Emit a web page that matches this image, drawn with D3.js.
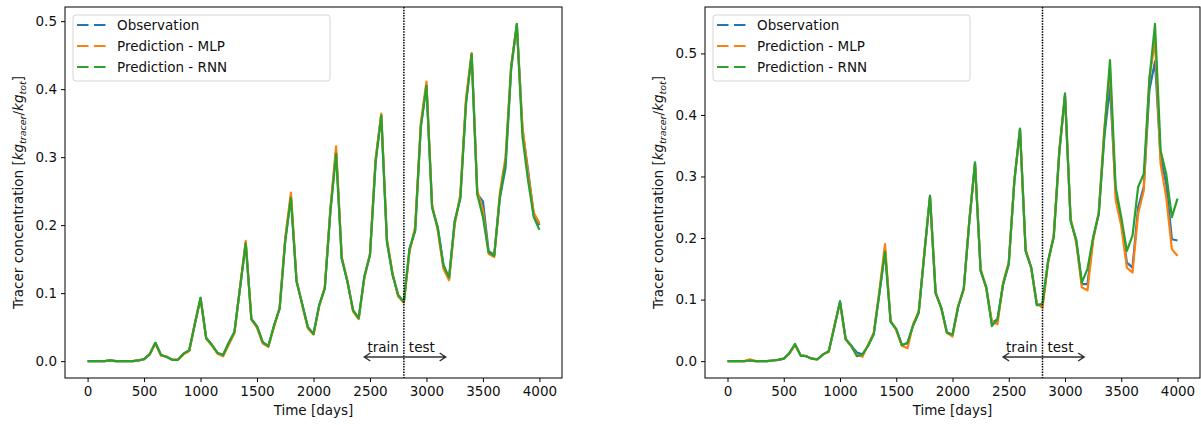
<!DOCTYPE html>
<html>
<head>
<meta charset="utf-8">
<script src="https://cdn.jsdelivr.net/npm/d3@7"></script>
<style>
  html, body { margin: 0; padding: 0; background: #fff; }
  svg { display: block; font-family: "DejaVu Sans", sans-serif; }
</style>
</head>
<body>
<svg id="chart" width="1201" height="425"></svg>
<script>
'use strict';

var DAYS = [0, 50, 100, 150, 200, 250, 300, 350, 400, 450, 500, 550, 600, 650, 700, 750, 800, 850, 900, 950,
  1000, 1050, 1100, 1150, 1200, 1250, 1300, 1350, 1400, 1450, 1500, 1550, 1600, 1650, 1700, 1750, 1800, 1850, 1900, 1950,
  2000, 2050, 2100, 2150, 2200, 2250, 2300, 2350, 2400, 2450, 2500, 2550, 2600, 2650, 2700, 2750, 2800, 2850, 2900, 2950,
  3000, 3050, 3100, 3150, 3200, 3250, 3300, 3350, 3400, 3450, 3500, 3550, 3600, 3650, 3700, 3750, 3800, 3850, 3900, 3950, 4000];

// left panel
var LEFT_OBS = [0, 0, 0, 0, 0.001, 0, 0, 0, 0, 0.001, 0.003, 0.010, 0.027, 0.009, 0.006, 0.002, 0.002, 0.011, 0.016, 0.055,
  0.093, 0.034, 0.024, 0.012, 0.009, 0.027, 0.043, 0.108, 0.174, 0.062, 0.051, 0.028, 0.022, 0.052, 0.077, 0.178, 0.242, 0.117, 0.084, 0.050,
  0.040, 0.082, 0.107, 0.222, 0.308, 0.151, 0.117, 0.075, 0.063, 0.124, 0.156, 0.294, 0.362, 0.176, 0.127, 0.097, 0.087, 0.165, 0.192, 0.345,
  0.406, 0.226, 0.197, 0.142, 0.121, 0.206, 0.240, 0.380, 0.452, 0.246, 0.235, 0.162, 0.156, 0.240, 0.284, 0.430, 0.495, 0.340, 0.280, 0.215, 0.200];
var LEFT_MLP = [0, 0, 0, 0, 0.001, 0, 0, 0, 0, 0.001, 0.003, 0.010, 0.026, 0.008, 0.007, 0.002, 0.002, 0.010, 0.015, 0.056,
  0.092, 0.033, 0.023, 0.011, 0.007, 0.024, 0.041, 0.110, 0.177, 0.061, 0.049, 0.026, 0.021, 0.050, 0.079, 0.182, 0.248, 0.119, 0.082, 0.048,
  0.039, 0.080, 0.109, 0.226, 0.316, 0.153, 0.119, 0.073, 0.062, 0.122, 0.158, 0.298, 0.364, 0.180, 0.129, 0.095, 0.086, 0.160, 0.198, 0.350,
  0.411, 0.230, 0.192, 0.136, 0.119, 0.200, 0.246, 0.386, 0.453, 0.250, 0.222, 0.158, 0.153, 0.248, 0.300, 0.435, 0.494, 0.345, 0.275, 0.218, 0.203];
var LEFT_RNN = [0, 0, 0, 0, 0.001, 0, 0, 0, 0, 0.001, 0.003, 0.010, 0.027, 0.009, 0.006, 0.002, 0.002, 0.011, 0.016, 0.055,
  0.093, 0.034, 0.024, 0.012, 0.009, 0.027, 0.043, 0.108, 0.173, 0.062, 0.051, 0.028, 0.022, 0.052, 0.077, 0.177, 0.240, 0.117, 0.084, 0.050,
  0.040, 0.082, 0.107, 0.221, 0.305, 0.151, 0.117, 0.075, 0.063, 0.124, 0.156, 0.293, 0.361, 0.176, 0.127, 0.097, 0.087, 0.165, 0.192, 0.344,
  0.405, 0.226, 0.196, 0.141, 0.123, 0.205, 0.240, 0.378, 0.451, 0.245, 0.212, 0.160, 0.155, 0.242, 0.292, 0.432, 0.496, 0.330, 0.265, 0.212, 0.193];

// right panel
var RIGHT_OBS = [0, 0, 0, 0, 0.001, 0, 0, 0, 0.001, 0.002, 0.004, 0.013, 0.027, 0.009, 0.008, 0.004, 0.003, 0.011, 0.016, 0.056,
  0.097, 0.036, 0.025, 0.014, 0.011, 0.025, 0.044, 0.110, 0.180, 0.064, 0.052, 0.026, 0.029, 0.058, 0.079, 0.175, 0.268, 0.110, 0.087, 0.047,
  0.043, 0.088, 0.118, 0.228, 0.322, 0.147, 0.120, 0.062, 0.068, 0.125, 0.158, 0.293, 0.377, 0.179, 0.152, 0.091, 0.092, 0.163, 0.203, 0.340,
  0.432, 0.228, 0.197, 0.125, 0.125, 0.200, 0.240, 0.365, 0.446, 0.275, 0.226, 0.160, 0.152, 0.250, 0.283, 0.440, 0.487, 0.330, 0.288, 0.198, 0.196];
var RIGHT_MLP = [0, 0, 0, 0, 0.003, 0, 0, 0, 0.001, 0.002, 0.004, 0.012, 0.026, 0.010, 0.008, 0.004, 0.003, 0.011, 0.015, 0.058,
  0.095, 0.035, 0.024, 0.010, 0.007, 0.027, 0.046, 0.114, 0.190, 0.066, 0.050, 0.025, 0.021, 0.060, 0.081, 0.177, 0.266, 0.113, 0.085, 0.046,
  0.040, 0.090, 0.116, 0.230, 0.320, 0.150, 0.118, 0.065, 0.060, 0.128, 0.160, 0.295, 0.375, 0.182, 0.150, 0.093, 0.087, 0.160, 0.205, 0.345,
  0.430, 0.232, 0.192, 0.120, 0.115, 0.196, 0.242, 0.380, 0.475, 0.262, 0.220, 0.152, 0.144, 0.240, 0.277, 0.460, 0.520, 0.320, 0.266, 0.182, 0.171];
var RIGHT_RNN = [0, 0, 0, 0, 0.001, 0, 0, 0, 0.001, 0.002, 0.004, 0.013, 0.028, 0.009, 0.008, 0.004, 0.003, 0.011, 0.016, 0.056,
  0.097, 0.036, 0.025, 0.008, 0.011, 0.025, 0.044, 0.110, 0.178, 0.064, 0.052, 0.026, 0.030, 0.058, 0.079, 0.175, 0.269, 0.110, 0.087, 0.046,
  0.043, 0.088, 0.118, 0.228, 0.323, 0.147, 0.120, 0.057, 0.068, 0.125, 0.158, 0.293, 0.378, 0.179, 0.152, 0.091, 0.093, 0.163, 0.201, 0.342,
  0.435, 0.228, 0.196, 0.128, 0.150, 0.201, 0.239, 0.370, 0.489, 0.283, 0.234, 0.179, 0.204, 0.283, 0.304, 0.457, 0.548, 0.342, 0.304, 0.234, 0.264];

var SERIES_NAMES = ['Observation', 'Prediction - MLP', 'Prediction - RNN'];
var SERIES_COLORS = ['#1f77b4', '#ff7f0e', '#2ca02c'];
var X_TICKS = [0, 500, 1000, 1500, 2000, 2500, 3000, 3500, 4000];
var Y_TICKS = [0, 0.1, 0.2, 0.3, 0.4, 0.5];
var SPLIT_DAY = 2800;
var ARROW_SPAN = [2450, 3170];

var PANELS = [
  { left: 65, right: 562, series: [LEFT_OBS, LEFT_MLP, LEFT_RNN] },
  { left: 705, right: 1200, series: [RIGHT_OBS, RIGHT_MLP, RIGHT_RNN] }
];
var TOP = 7;
var BOTTOM = 378;

var svg = d3.select('#chart');
PANELS.forEach(function (p) { drawPanel(p); });

function drawPanel(p) {
  var maxY = d3.max(p.series, function (s) { return d3.max(s); });
  var minY = 0;
  var padY = (maxY - minY) * 0.05;
  var padX = (4000 - 0) * 0.05;

  var x = d3.scaleLinear().domain([0 - padX, 4000 + padX]).range([p.left, p.right]);
  var y = d3.scaleLinear().domain([minY - padY, maxY + padY]).range([BOTTOM, TOP]);

  var g = svg.append('g');

  // lines
  var line = d3.line()
    .x(function (d, i) { return x(DAYS[i]); })
    .y(function (d) { return y(d); });

  p.series.forEach(function (s, i) {
    g.append('path')
      .datum(s)
      .attr('d', line)
      .style('fill', 'none')
      .style('stroke', SERIES_COLORS[i])
      .style('stroke-width', 2.2)
      .style('stroke-linejoin', 'round');
  });

  // split marker
  g.append('line')
    .attr('x1', x(SPLIT_DAY)).attr('x2', x(SPLIT_DAY))
    .attr('y1', TOP).attr('y2', BOTTOM)
    .style('stroke', '#000')
    .style('stroke-width', 1.5)
    .style('stroke-dasharray', '1.5,1.2');

  // train / test arrow
  var ay = BOTTOM - 21;
  var ax1 = x(ARROW_SPAN[0]);
  var ax2 = x(ARROW_SPAN[1]);
  g.append('path')
    .attr('d', 'M' + ax1 + ',' + ay + 'H' + ax2 +
      'M' + (ax1 + 6) + ',' + (ay - 4) + 'L' + ax1 + ',' + ay + 'L' + (ax1 + 6) + ',' + (ay + 4) +
      'M' + (ax2 - 6) + ',' + (ay - 4) + 'L' + ax2 + ',' + ay + 'L' + (ax2 - 6) + ',' + (ay + 4))
    .style('fill', 'none')
    .style('stroke', '#333')
    .style('stroke-width', 1.5);

  g.append('text')
    .attr('x', x(SPLIT_DAY) - 5).attr('y', ay - 5)
    .attr('text-anchor', 'end')
    .style('font-size', '13.5px')
    .style('fill', '#111')
    .text('train');
  g.append('text')
    .attr('x', x(SPLIT_DAY) + 5).attr('y', ay - 5)
    .attr('text-anchor', 'start')
    .style('font-size', '13.5px')
    .style('fill', '#111')
    .text('test');

  // frame
  g.append('rect')
    .attr('x', p.left).attr('y', TOP)
    .attr('width', p.right - p.left).attr('height', BOTTOM - TOP)
    .style('fill', 'none')
    .style('stroke', '#000')
    .style('stroke-width', 1);

  // axes
  var xAxis = d3.axisBottom(x).tickValues(X_TICKS).tickFormat(d3.format('d')).tickSize(4).tickPadding(4);
  var yAxis = d3.axisLeft(y).tickValues(Y_TICKS).tickFormat(d3.format('.1f')).tickSize(4).tickPadding(4);

  var gx = g.append('g').attr('transform', 'translate(0,' + BOTTOM + ')').call(xAxis);
  var gy = g.append('g').attr('transform', 'translate(' + p.left + ',0)').call(yAxis);
  [gx, gy].forEach(function (a) {
    a.select('.domain').remove();
    a.selectAll('.tick line').style('stroke', '#000').style('stroke-width', 1);
    a.selectAll('.tick text')
      .style('font-family', '"DejaVu Sans", sans-serif')
      .style('font-size', '13.5px')
      .style('fill', '#111');
  });

  // axis titles
  g.append('text')
    .attr('x', (p.left + p.right) / 2)
    .attr('y', BOTTOM + 37)
    .attr('text-anchor', 'middle')
    .style('font-size', '13.5px')
    .style('fill', '#111')
    .text('Time [days]');

  var yl = g.append('text')
    .attr('transform', 'translate(' + (p.left - 42) + ',' + ((TOP + BOTTOM) / 2) + ') rotate(-90)')
    .attr('text-anchor', 'middle')
    .style('font-size', '13.5px')
    .style('fill', '#111');
  yl.append('tspan').text('Tracer concentration [');
  yl.append('tspan').style('font-style', 'italic').text('kg');
  yl.append('tspan').style('font-style', 'italic').style('font-size', '9.5px').attr('dy', 3).text('tracer');
  yl.append('tspan').attr('dy', -3).text('/');
  yl.append('tspan').style('font-style', 'italic').text('kg');
  yl.append('tspan').style('font-style', 'italic').style('font-size', '9.5px').attr('dy', 3).text('tot');
  yl.append('tspan').attr('dy', -3).text(']');

  // legend
  var lx = p.left + 8;
  var ly = TOP + 8;
  var leg = g.append('g').attr('transform', 'translate(' + lx + ',' + ly + ')');
  leg.append('rect')
    .attr('width', 257).attr('height', 66)
    .attr('rx', 3)
    .style('fill', 'rgba(255,255,255,0.8)')
    .style('stroke', '#d4d4d4')
    .style('stroke-width', 1);
  SERIES_NAMES.forEach(function (name, i) {
    var cy = 10 + i * 21;
    leg.append('line')
      .attr('x1', 4).attr('x2', 33)
      .attr('y1', cy).attr('y2', cy)
      .style('stroke', SERIES_COLORS[i])
      .style('stroke-width', 2.2)
      .style('stroke-dasharray', '11.5,5.5');
    leg.append('text')
      .attr('x', 44).attr('y', cy + 5)
      .style('font-size', '13.5px')
      .style('fill', '#111')
      .text(name);
  });
}
</script>
</body>
</html>
